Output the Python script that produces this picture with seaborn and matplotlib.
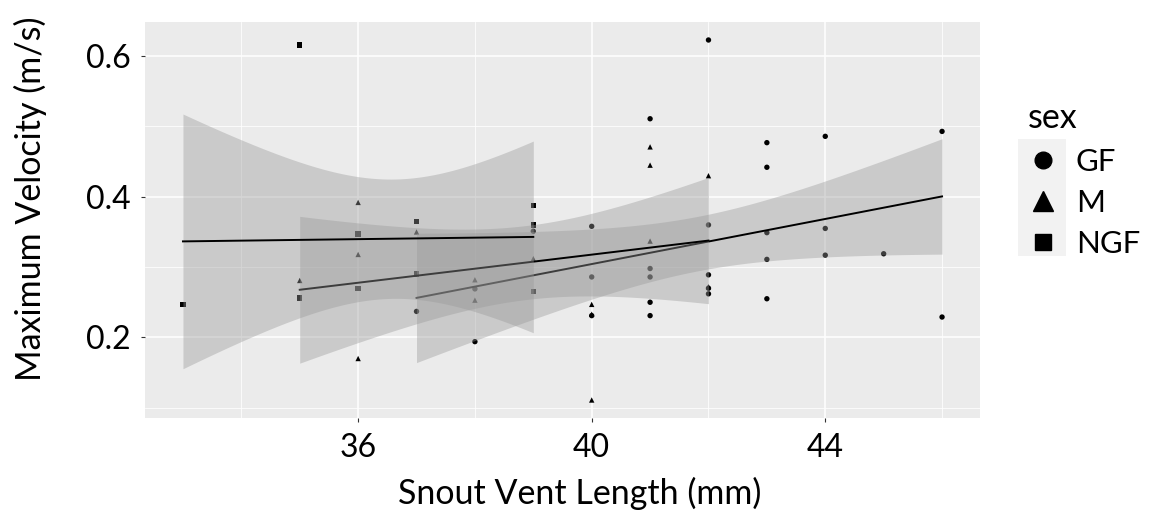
import math
import numpy as np
import pandas as pd
import matplotlib
matplotlib.use("Agg")
import matplotlib.pyplot as plt
from matplotlib.lines import Line2D
from matplotlib.patches import Rectangle
import seaborn as sns

# Snout-vent length (mm) and maximum sprint velocity (m/s) by sex group
gf_svl = [37, 38, 38, 39, 40, 40, 40, 41, 41, 41, 41, 41, 42, 42, 42, 42, 42,
          43, 43, 43, 43, 43, 44, 44, 44, 45, 46, 46]
gf_vel = [0.237, 0.269, 0.194, 0.351, 0.358, 0.286, 0.231, 0.511, 0.298, 0.286,
          0.250, 0.231, 0.623, 0.360, 0.289, 0.270, 0.262, 0.477, 0.442, 0.349,
          0.311, 0.255, 0.486, 0.355, 0.317, 0.319, 0.493, 0.229]

m_svl = [35, 36, 36, 36, 37, 38, 38, 39, 40, 40, 40, 41, 41, 41, 42, 42]
m_vel = [0.281, 0.392, 0.318, 0.170, 0.350, 0.282, 0.253, 0.312, 0.247, 0.233,
         0.111, 0.337, 0.471, 0.445, 0.430, 0.272]

ngf_svl = [33, 35, 35, 36, 36, 37, 37, 39, 39, 39]
ngf_vel = [0.247, 0.616, 0.256, 0.347, 0.270, 0.365, 0.290, 0.388, 0.360, 0.265]

sex_levels = ["GF", "M", "NGF"]
x_ticks = [36, 40, 44]
y_ticks = [0.2, 0.4, 0.6]

df = pd.concat([
    pd.DataFrame({"svl": gf_svl, "vel": gf_vel, "sex": "GF"}),
    pd.DataFrame({"svl": m_svl, "vel": m_vel, "sex": "M"}),
    pd.DataFrame({"svl": ngf_svl, "vel": ngf_vel, "sex": "NGF"}),
], ignore_index=True)


def t_quantile(df_, p=0.975):
    """Student t quantile by bisection on a numerically integrated CDF."""
    c = math.gamma((df_ + 1) / 2) / (math.sqrt(df_ * math.pi) * math.gamma(df_ / 2))

    def half_cdf(t):
        xs = np.linspace(0.0, t, 4001)
        return np.trapezoid(c * (1 + xs ** 2 / df_) ** (-(df_ + 1) / 2), xs)

    lo, hi = 0.0, 20.0
    for _ in range(60):
        mid = 0.5 * (lo + hi)
        if half_cdf(mid) < p - 0.5:
            lo = mid
        else:
            hi = mid
    return 0.5 * (lo + hi)


def lm_fit(x, y, n_grid=80):
    """Least-squares line with a 95% confidence band for the mean."""
    x = np.asarray(x, float)
    y = np.asarray(y, float)
    n = len(x)
    slope, intercept = np.polyfit(x, y, 1)
    resid = y - (intercept + slope * x)
    s = np.sqrt(np.sum(resid ** 2) / (n - 2))
    grid = np.linspace(x.min(), x.max(), n_grid)
    fit = intercept + slope * grid
    se = s * np.sqrt(1 / n + (grid - x.mean()) ** 2 / np.sum((x - x.mean()) ** 2))
    t = t_quantile(n - 2)
    return pd.DataFrame({"svl": grid, "vel": fit, "lo": fit - t * se, "hi": fit + t * se})


W, H = 1151, 519
plt.rcParams["font.family"] = ["Lato", "DejaVu Sans"]
fig = plt.figure(figsize=(W / 100, H / 100), dpi=100)
fig.patch.set_facecolor("white")
ax = fig.add_axes([145 / W, 1 - 418 / H, (980 - 145) / W, (418 - 22) / H])
ax.set_facecolor("#EBEBEB")

markers = {"GF": "o", "M": "^", "NGF": "s"}
sns.scatterplot(data=df, x="svl", y="vel", style="sex", style_order=sex_levels,
                markers=markers, color="black", s=15, linewidth=0,
                legend=False, ax=ax, zorder=3)

z = 4
for sex in sex_levels:
    sub = df[df["sex"] == sex]
    fit = lm_fit(sub["svl"], sub["vel"])
    ax.fill_between(fit["svl"], fit["lo"], fit["hi"], color="#999999",
                    alpha=0.4, linewidth=0, zorder=z)
    sns.lineplot(data=fit, x="svl", y="vel", color="black", linewidth=1.4,
                 ax=ax, zorder=z + 1)
    z += 2

# ggplot-like 5% expansion of the data range
xr = df["svl"].max() - df["svl"].min()
ax.set_xlim(df["svl"].min() - 0.05 * xr, df["svl"].max() + 0.05 * xr)
yr = df["vel"].max() - df["vel"].min()
ax.set_ylim(df["vel"].min() - 0.05 * yr, df["vel"].max() + 0.05 * yr)

ax.set_xticks(x_ticks)
ax.set_xticklabels([str(v) for v in x_ticks])
ax.set_yticks(y_ticks)
ax.set_yticklabels([f"{v:.1f}" for v in y_ticks])
ax.set_xticks([34, 38, 42, 46], minor=True)
ax.set_yticks([0.1, 0.3, 0.5], minor=True)
ax.grid(which="major", color="white", linewidth=1.1, zorder=0)
ax.grid(which="minor", color="white", linewidth=0.55, zorder=0)
ax.set_axisbelow(True)
for sp in ax.spines.values():
    sp.set_visible(False)
ax.tick_params(which="major", length=3, width=0.8, color="#333333",
               labelsize=23, labelcolor="black", pad=7.5)
ax.tick_params(which="minor", length=0)

ax.set_xlabel("Snout Vent Length (mm)", fontsize=24.5, va="center")
ax.set_ylabel("Maximum Velocity (m/s)", fontsize=24.5, va="center")
ax.xaxis.set_label_coords((580 - 145) / 835, (418 - 493) / 396)
ax.yaxis.set_label_coords((30 - 145) / 835, (418 - 199) / 396)

# legend: grey key background plus marker handles
fig.patches.append(Rectangle((1018 / W, 1 - 256 / H), 48 / W, 117 / H,
                             transform=fig.transFigure, facecolor="#F2F2F2",
                             edgecolor="none", zorder=0))
handles = [Line2D([], [], linestyle="none", marker=markers[s], color="black",
                  markersize=14 if s == "M" else 12) for s in sex_levels]
leg = fig.legend(handles, sex_levels, title="sex", loc="upper left",
                 bbox_to_anchor=(1015 / W, 1 - 90 / H), frameon=False,
                 fontsize=22.4, title_fontsize=24.5, handlelength=1.0,
                 handletextpad=0.56, labelspacing=0.42, borderaxespad=0)
leg._legend_box.align = "left"

fig.savefig("out.png", dpi=100)
